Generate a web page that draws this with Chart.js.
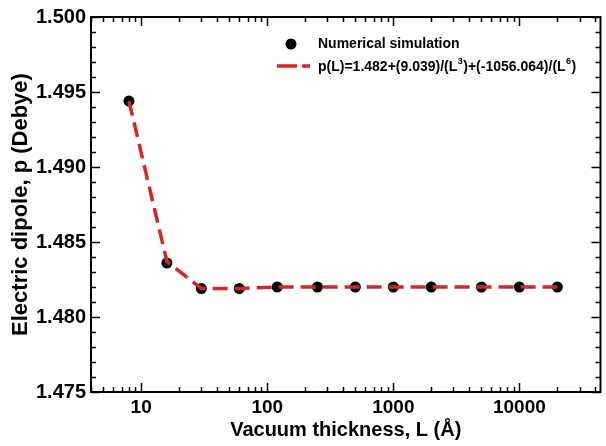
<!DOCTYPE html>
<html>
<head>
<meta charset="utf-8">
<script src="https://cdn.jsdelivr.net/npm/chart.js@4"></script>
<style>
  html, body { margin: 0; padding: 0; background: #fff; }
  #wrap { width: 606px; height: 446px; }
</style>
</head>
<body>
<div id="wrap"><canvas id="dipoleChart" width="606" height="446"></canvas></div>
<script>
// Vacuum thickness L (Å) of each calculation
const thickness = [8, 16, 30, 60, 120, 250, 500, 1000, 2000, 5000, 10000, 20000];
// Numerical simulation, electric dipole p (Debye)
const simulated = [1.4944, 1.4836, 1.4819, 1.4819, 1.4820, 1.4820, 1.4820, 1.4820, 1.4820, 1.4820, 1.4820, 1.4820];
// Fitted curve at the same thicknesses
const fitted = [1.4944, 1.4837, 1.4819, 1.4819, 1.4820, 1.4820, 1.4820, 1.4820, 1.4820, 1.4820, 1.4820, 1.4820];
// Axis ticks
const xMajorTicks = [10, 100, 1000, 10000];
const yTicks = [1.475, 1.48, 1.485, 1.49, 1.495, 1.5];
const yMinorStep = 0.001;
// Legend texts
const legendLabels = ["Numerical simulation", "p(L)=1.482+(9.039)/(L³)+(-1056.064)/(L⁶)"];

const FONT = "'Liberation Sans', Arial, Helvetica, sans-serif";
const RED = "#d42626";
const DASH = [15, 7];
const SUPERSCRIPTS = { "³": "3", "⁶": "6" };

// Write a label, raising superscript digits
function drawRichText(ctx, text, x, y, size) {
  let cx = x;
  for (const ch of text) {
    if (SUPERSCRIPTS[ch]) {
      ctx.font = "bold " + Math.round(size * 0.65) + "px " + FONT;
      ctx.fillText(SUPERSCRIPTS[ch], cx + 0.5, y - size * 0.4);
      cx += ctx.measureText(SUPERSCRIPTS[ch]).width + 1;
    } else {
      ctx.font = "bold " + size + "px " + FONT;
      ctx.fillText(ch, cx, y);
      cx += ctx.measureText(ch).width;
    }
  }
}

// Box around the plot with inward ticks on all four sides
const frameTicks = {
  id: "frameTicks",
  afterDatasetsDraw(chart) {
    const { ctx, chartArea: a } = chart;
    const xs = chart.scales.x;
    const ys = chart.scales.y;
    ctx.save();
    ctx.strokeStyle = "#000";
    ctx.lineWidth = 2;
    ctx.setLineDash([]);
    ctx.strokeRect(a.left, a.top, a.right - a.left, a.bottom - a.top);

    ctx.lineWidth = 1.5;
    ctx.beginPath();
    // x ticks: 1..9 in each decade
    for (let d = 1; d <= 100000; d *= 10) {
      for (let m = 1; m < 10; m++) {
        const v = d * m;
        if (v < xs.min || v > xs.max) continue;
        const px = Math.round(xs.getPixelForValue(v)) + 0.5;
        const len = m === 1 ? 9 : 5;
        ctx.moveTo(px, a.bottom);
        ctx.lineTo(px, a.bottom - len);
        ctx.moveTo(px, a.top);
        ctx.lineTo(px, a.top + len);
      }
    }
    // y ticks
    const n = Math.round((ys.max - ys.min) / yMinorStep);
    for (let i = 0; i <= n; i++) {
      const v = ys.min + i * yMinorStep;
      const py = Math.round(ys.getPixelForValue(v)) + 0.5;
      const len = i % 5 === 0 ? 9 : 5;
      ctx.moveTo(a.left, py);
      ctx.lineTo(a.left + len, py);
      ctx.moveTo(a.right, py);
      ctx.lineTo(a.right - len, py);
    }
    ctx.stroke();
    ctx.restore();
  },
  afterDraw(chart) {
    // legend in the upper right of the plot
    const { ctx } = chart;
    ctx.save();
    ctx.fillStyle = "#000";
    ctx.beginPath();
    ctx.arc(291, 44, 5.5, 0, Math.PI * 2);
    ctx.fill();

    ctx.strokeStyle = RED;
    ctx.lineWidth = 3.5;
    ctx.setLineDash([20, 5]);
    ctx.beginPath();
    ctx.moveTo(277, 66);
    ctx.lineTo(310, 66);
    ctx.stroke();

    ctx.textBaseline = "middle";
    ctx.font = "bold 14px " + FONT;
    ctx.fillText(legendLabels[0], 318, 44);
    drawRichText(ctx, legendLabels[1], 318, 67, 14);
    ctx.restore();
  },
};

function initializeDipoleChart() {
  const ctx = document.getElementById("dipoleChart").getContext("2d");
  new Chart(ctx, {
    type: "scatter",
    data: {
      datasets: [
        {
          label: legendLabels[1],
          data: thickness.map((x, i) => ({ x: x, y: fitted[i] })),
          showLine: true,
          borderColor: RED,
          borderWidth: 3.5,
          borderDash: DASH,
          pointRadius: 0,
          fill: false,
          order: 0,
        },
        {
          label: legendLabels[0],
          data: thickness.map((x, i) => ({ x: x, y: simulated[i] })),
          showLine: false,
          pointRadius: 5.5,
          pointBackgroundColor: "#000",
          pointBorderColor: "#000",
          pointBorderWidth: 0,
          order: 1,
        },
      ],
    },
    options: {
      responsive: false,
      animation: false,
      layout: { padding: { top: 14, right: 5, left: 0, bottom: 0 } },
      plugins: {
        legend: { display: false },
        tooltip: { enabled: false },
      },
      scales: {
        x: {
          type: "logarithmic",
          min: 4,
          max: 44000,
          grid: { display: false, drawTicks: false },
          border: { display: false },
          afterBuildTicks: (scale) => {
            scale.ticks = xMajorTicks.map((v) => ({ value: v, major: true }));
          },
          afterFit: (scale) => {
            scale.height = 54;
          },
          ticks: {
            color: "#000",
            padding: 4,
            maxRotation: 0,
            autoSkip: false,
            font: { family: FONT, size: 19, weight: "bold" },
            callback: (v) => String(v),
          },
          title: {
            display: true,
            text: "Vacuum thickness, L (Å)",
            color: "#000",
            padding: { top: 0, bottom: 4 },
            font: { family: FONT, size: 20, weight: "bold" },
          },
        },
        y: {
          min: 1.475,
          max: 1.5,
          grid: { display: false, drawTicks: false },
          border: { display: false },
          afterBuildTicks: (scale) => {
            scale.ticks = yTicks.map((v) => ({ value: v }));
          },
          afterFit: (scale) => {
            scale.width = 91;
          },
          ticks: {
            color: "#000",
            padding: 5,
            font: { family: FONT, size: 20, weight: "bold" },
            callback: (v) => Number(v).toFixed(3),
          },
          title: {
            display: true,
            text: "Electric dipole, p (Debye)",
            color: "#000",
            padding: { top: 8, bottom: 0 },
            font: { family: FONT, size: 22, weight: "bold" },
          },
        },
      },
    },
    plugins: [frameTicks],
  });
}

initializeDipoleChart();
</script>
</body>
</html>
